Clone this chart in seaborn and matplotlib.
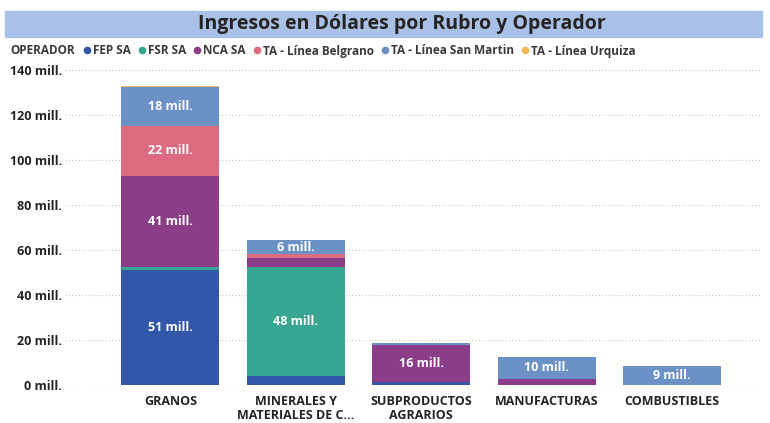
import numpy as np
import pandas as pd
import matplotlib.pyplot as plt
import seaborn as sns
from matplotlib.patches import Rectangle
from matplotlib.lines import Line2D

# data (millions of USD)
rubros = ["GRANOS", "MINERALES Y\nMATERIALES DE C...", "SUBPRODUCTOS\nAGRARIOS", "MANUFACTURAS", "COMBUSTIBLES"]
operadores = ["FEP SA", "FSR SA", "NCA SA", "TA - Línea Belgrano", "TA - Línea San Martin", "TA - Línea Urquiza"]
fep = [51.0, 4.0, 1.5, 0.0, 0.0]
fsr = [1.3, 48.3, 0.0, 0.0, 0.0]
nca = [40.8, 4.1, 16.3, 2.8, 0.0]
belgrano = [21.8, 1.8, 0.0, 0.0, 0.0]
san_martin = [17.6, 6.2, 0.9, 9.8, 8.6]
urquiza = [0.5, 0.0, 0.0, 0.0, 0.0]

colores = ["#3257A8", "#37A794", "#8B3D88", "#DD6B7F", "#6B91C7", "#F2B858"]


def main():
    sns.set_theme(style="white")
    plt.rcParams["font.family"] = ["Open Sans", "DejaVu Sans"]

    series = [fep, fsr, nca, belgrano, san_martin, urquiza]
    df = pd.DataFrame({"rubro": rubros})

    fig = plt.figure(figsize=(7.7, 4.23), dpi=100)
    ax = fig.add_axes([65 / 770, 38 / 423, 695 / 770, 315 / 423])

    # title bar
    fig.patches.append(Rectangle((5 / 770, 386 / 423), 757 / 770, 26 / 423,
                                 transform=fig.transFigure, color="#A9C1E6", zorder=0))
    fig.text(402 / 770, 399 / 423, "Ingresos en Dólares por Rubro y Operador", ha="center", va="center",
             fontsize=14, fontweight="bold", color="#252423")

    bottom = np.zeros(len(rubros))
    for vals, col in zip(series, colores):
        df["v"] = vals
        sns.barplot(data=df, x="rubro", y="v", order=rubros, color=col, bottom=bottom.copy(),
                    width=0.78, saturation=1, ax=ax, zorder=3, linewidth=0, edgecolor="none")
        for i, v in enumerate(vals):
            if v >= 5:
                ax.text(i, bottom[i] + v / 2, f"{v:.0f} mill.", ha="center", va="center",
                        color="white", fontsize=9, fontweight="bold", zorder=4)
        bottom += np.array(vals)

    ax.set_ylim(0, 140)
    ax.set_xlim(-0.84, 4.7)
    ax.set_yticks(range(0, 141, 20))
    ax.set_yticklabels([f"{t} mill." for t in range(0, 141, 20)])
    ax.yaxis.grid(True, linestyle=(0, (1, 2)), color="#C8C8C8", linewidth=0.8, zorder=0)
    ax.set_xlabel("")
    ax.set_ylabel("")
    for s in ax.spines.values():
        s.set_visible(False)
    ax.tick_params(axis="y", length=0, pad=2, labelsize=9, labelcolor="#252423")
    ax.tick_params(axis="x", length=0, pad=7, labelsize=9, labelcolor="#252423")
    for lab in ax.get_yticklabels() + ax.get_xticklabels():
        lab.set_fontweight("bold")
    for lab in ax.get_xticklabels():
        lab.set_linespacing(1.15)
        lab.set_va("top")

    # legend
    fig.text(10 / 770, 372 / 423, "OPERADOR", ha="left", va="center", fontsize=8.5,
             fontweight="bold", color="#3A3A3A")
    handles = [Line2D([], [], marker="o", linestyle="", color=c, markersize=4.5) for c in colores]
    fig.legend(handles, operadores, loc="center left", bbox_to_anchor=(81 / 770, 372 / 423),
               ncol=6, frameon=False, handletextpad=0.0, columnspacing=0.45, handlelength=1.0,
               prop={"size": 8.5, "weight": "bold"}, labelcolor="#3A3A3A", borderaxespad=0,
               borderpad=0)

    fig.savefig("out.png", dpi=100)


main()
